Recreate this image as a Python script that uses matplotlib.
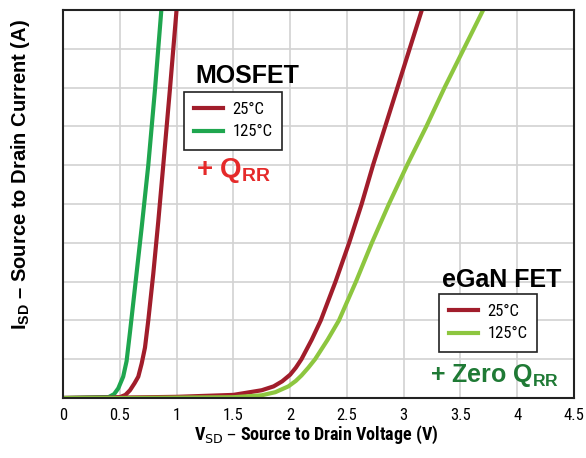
import os
import matplotlib
matplotlib.use("Agg")
import matplotlib.pyplot as plt
from matplotlib import font_manager
from matplotlib.lines import Line2D

# ---------------- data ----------------
mos25_v = [0, 0.50, 0.55, 0.59, 0.63, 0.663, 0.693, 0.722, 0.751, 0.795, 0.839, 0.883, 0.942, 1.0]
mos25_i = [0, 0.02, 0.08, 0.20, 0.38, 0.55, 0.89, 1.30, 2.00, 3.20, 4.55, 6.00, 7.97, 10.0]

mos125_v = [0, 0.40, 0.45, 0.487, 0.53, 0.56, 0.59, 0.634, 0.693, 0.751, 0.81, 0.866]
mos125_i = [0, 0.02, 0.10, 0.25, 0.55, 0.95, 1.70, 2.85, 4.40, 6.00, 7.95, 10.0]

gan25_v = [0, 0.5, 1.0, 1.5, 1.75, 1.855, 1.93, 2.0, 2.05, 2.10, 2.19, 2.27, 2.40, 2.52, 2.63, 2.73, 2.945, 3.16]
gan25_i = [0, 0.01, 0.03, 0.08, 0.20, 0.30, 0.43, 0.60, 0.78, 1.0, 1.5, 2.0, 3.0, 4.0, 5.0, 6.0, 8.0, 10.0]

gan125_v = [0, 0.5, 1.0, 1.5, 1.75, 1.87, 1.985, 2.05, 2.10, 2.16, 2.22, 2.33, 2.43, 2.58, 2.72, 2.87, 3.03, 3.20, 3.36, 3.53, 3.70]
gan125_i = [0, 0, 0.01, 0.02, 0.07, 0.15, 0.30, 0.44, 0.58, 0.78, 1.0, 1.5, 2.0, 3.0, 4.0, 5.0, 6.0, 7.0, 8.0, 9.0, 10.0]

series_labels = ["25°C", "125°C"]
x_ticks = [0, 0.5, 1, 1.5, 2, 2.5, 3, 3.5, 4, 4.5]
x_tick_labels = ["0", "0.5", "1", "1.5", "2", "2.5", "3", "3.5", "4", "4.5"]
y_ticks = list(range(0, 11))

# ---------------- fonts ----------------
WIDE = "Liberation Sans"


def find_condensed(bold):
    prefs = ["liberationsansnarrow", "robotocondensed", "dejavusanscondensed", "opensanscondensed",
             "notosanscondensed", "narrow", "condensed"]
    cands = []
    for f in font_manager.fontManager.ttflist:
        fn = os.path.basename(f.fname).lower().replace("-", "").replace("_", "").replace(" ", "")
        if "italic" in fn or "oblique" in fn:
            continue
        if "narrow" not in fn and "condensed" not in fn:
            continue
        w = f.weight if isinstance(f.weight, int) else (700 if "bold" in str(f.weight) else 400)
        if bold and w < 600:
            continue
        if not bold and not (350 <= w <= 500):
            continue
        if "semi" in fn or "extra" in fn or "light" in fn:
            continue
        rank = next((i for i, p in enumerate(prefs) if p in fn), len(prefs))
        cands.append((rank, abs(w - (700 if bold else 400)), f))
    if not cands:
        return None
    cands.sort(key=lambda t: (t[0], t[1]))
    return cands[0][2]


cb = find_condensed(True)
cr = find_condensed(False)
if cb is not None:
    COND_BOLD = font_manager.FontProperties(family=cb.name, weight=cb.weight, stretch=cb.stretch, size=13)
    math_rm = f"{cb.name}:bold" + (":stretch=condensed" if "condensed" in str(cb.stretch) else "")
else:
    COND_BOLD = font_manager.FontProperties(family=WIDE, weight="bold", size=12.5)
    math_rm = WIDE + ":bold"
if cr is not None:
    COND_REG = dict(family=cr.name, weight=cr.weight, stretch=cr.stretch)
else:
    COND_REG = dict(family=WIDE, weight="normal")

try:
    font_manager.FontProperties(math_rm)
except Exception:
    math_rm = (cb.name + ":bold") if cb is not None else WIDE + ":bold"

plt.rcParams["mathtext.fontset"] = "custom"
plt.rcParams["mathtext.rm"] = math_rm
plt.rcParams["mathtext.sf"] = WIDE + ":bold"
plt.rcParams["mathtext.bf"] = WIDE + ":bold"

C_RED = "#A11D2B"
C_GREEN = "#1FA64F"
C_LGREEN = "#8DC63F"
C_TXT_RED = "#E52A2A"
C_TXT_GREEN = "#1F7A35"

fig = plt.figure(figsize=(5.86, 4.58), dpi=100)
ax = fig.add_axes([63 / 586, 60 / 458, 511 / 586, 388 / 458])

lw = 3.0
kw = dict(lw=lw, solid_joinstyle="round", solid_capstyle="butt")
ax.plot(mos25_v, mos25_i, color=C_RED, zorder=3, **kw)
ax.plot(mos125_v, mos125_i, color=C_GREEN, zorder=4, **kw)
ax.plot(gan25_v, gan25_i, color=C_RED, zorder=5, **kw)
ax.plot(gan125_v, gan125_i, color=C_LGREEN, zorder=6, **kw)

ax.set_xlim(0, 4.5)
ax.set_ylim(0, 10)
ax.set_xticks(x_ticks)
ax.set_xticklabels(x_tick_labels, fontsize=12, **COND_REG)
ax.set_yticks(y_ticks)
ax.set_yticklabels([])
ax.tick_params(axis="both", length=0, pad=7)
ax.grid(True, color="#D2D2D2", lw=1.2, zorder=0)
ax.set_axisbelow(True)
for s in ax.spines.values():
    s.set_linewidth(1.5)
    s.set_color("#222222")
    s.set_zorder(7)

ax.set_xlabel(r"V$_{\mathrm{SD}}$ – Source to Drain Voltage (V)", fontproperties=COND_BOLD)
ax.xaxis.set_label_coords(0.496, -0.066)
ax.set_ylabel(r"I$_{\mathsf{SD}}$ – Source to Drain Current (A)", fontfamily=WIDE,
              fontweight="bold", fontsize=14.5)
ax.yaxis.set_label_coords(-0.061, 0.575)

# annotations
ax.text(1.624, 8.12, "MOSFET", fontfamily=WIDE, fontweight="bold", fontsize=18,
        ha="center", va="baseline", color="black", zorder=8)
ax.text(1.17, 5.70, r"+ Q$_{\mathsf{RR}}$", fontfamily=WIDE, fontweight="bold", fontsize=20,
        ha="left", va="baseline", color=C_TXT_RED, zorder=8)
ax.text(3.86, 2.86, "eGaN FET", fontfamily=WIDE, fontweight="bold", fontsize=18,
        ha="center", va="baseline", color="black", zorder=8)
ax.text(3.23, 0.41, r"+ Zero Q$_{\mathsf{RR}}$", fontfamily=WIDE, fontweight="bold", fontsize=18,
        ha="left", va="baseline", color=C_TXT_GREEN, zorder=8)


# legends
def make_legend(colors, anchor):
    handles = [Line2D([], [], color=c, lw=lw) for c in colors]
    leg = ax.legend(handles, series_labels, loc="upper left", bbox_to_anchor=anchor,
                    bbox_transform=ax.transAxes, borderaxespad=0, frameon=True,
                    fancybox=False, edgecolor="#222222", framealpha=1,
                    prop=font_manager.FontProperties(size=12, **COND_REG),
                    handlelength=1.75, handletextpad=0.55, labelspacing=0.45,
                    borderpad=0.6)
    leg.get_frame().set_linewidth(1.2)
    leg.set_zorder(9)
    return leg


leg1 = make_legend([C_RED, C_GREEN], ((184 - 63) / 511, (398 - 92) / 388))
ax.add_artist(leg1)
leg2 = make_legend([C_RED, C_LGREEN], ((439 - 63) / 511, (398 - 294) / 388))

fig.savefig("out.png", dpi=100)
